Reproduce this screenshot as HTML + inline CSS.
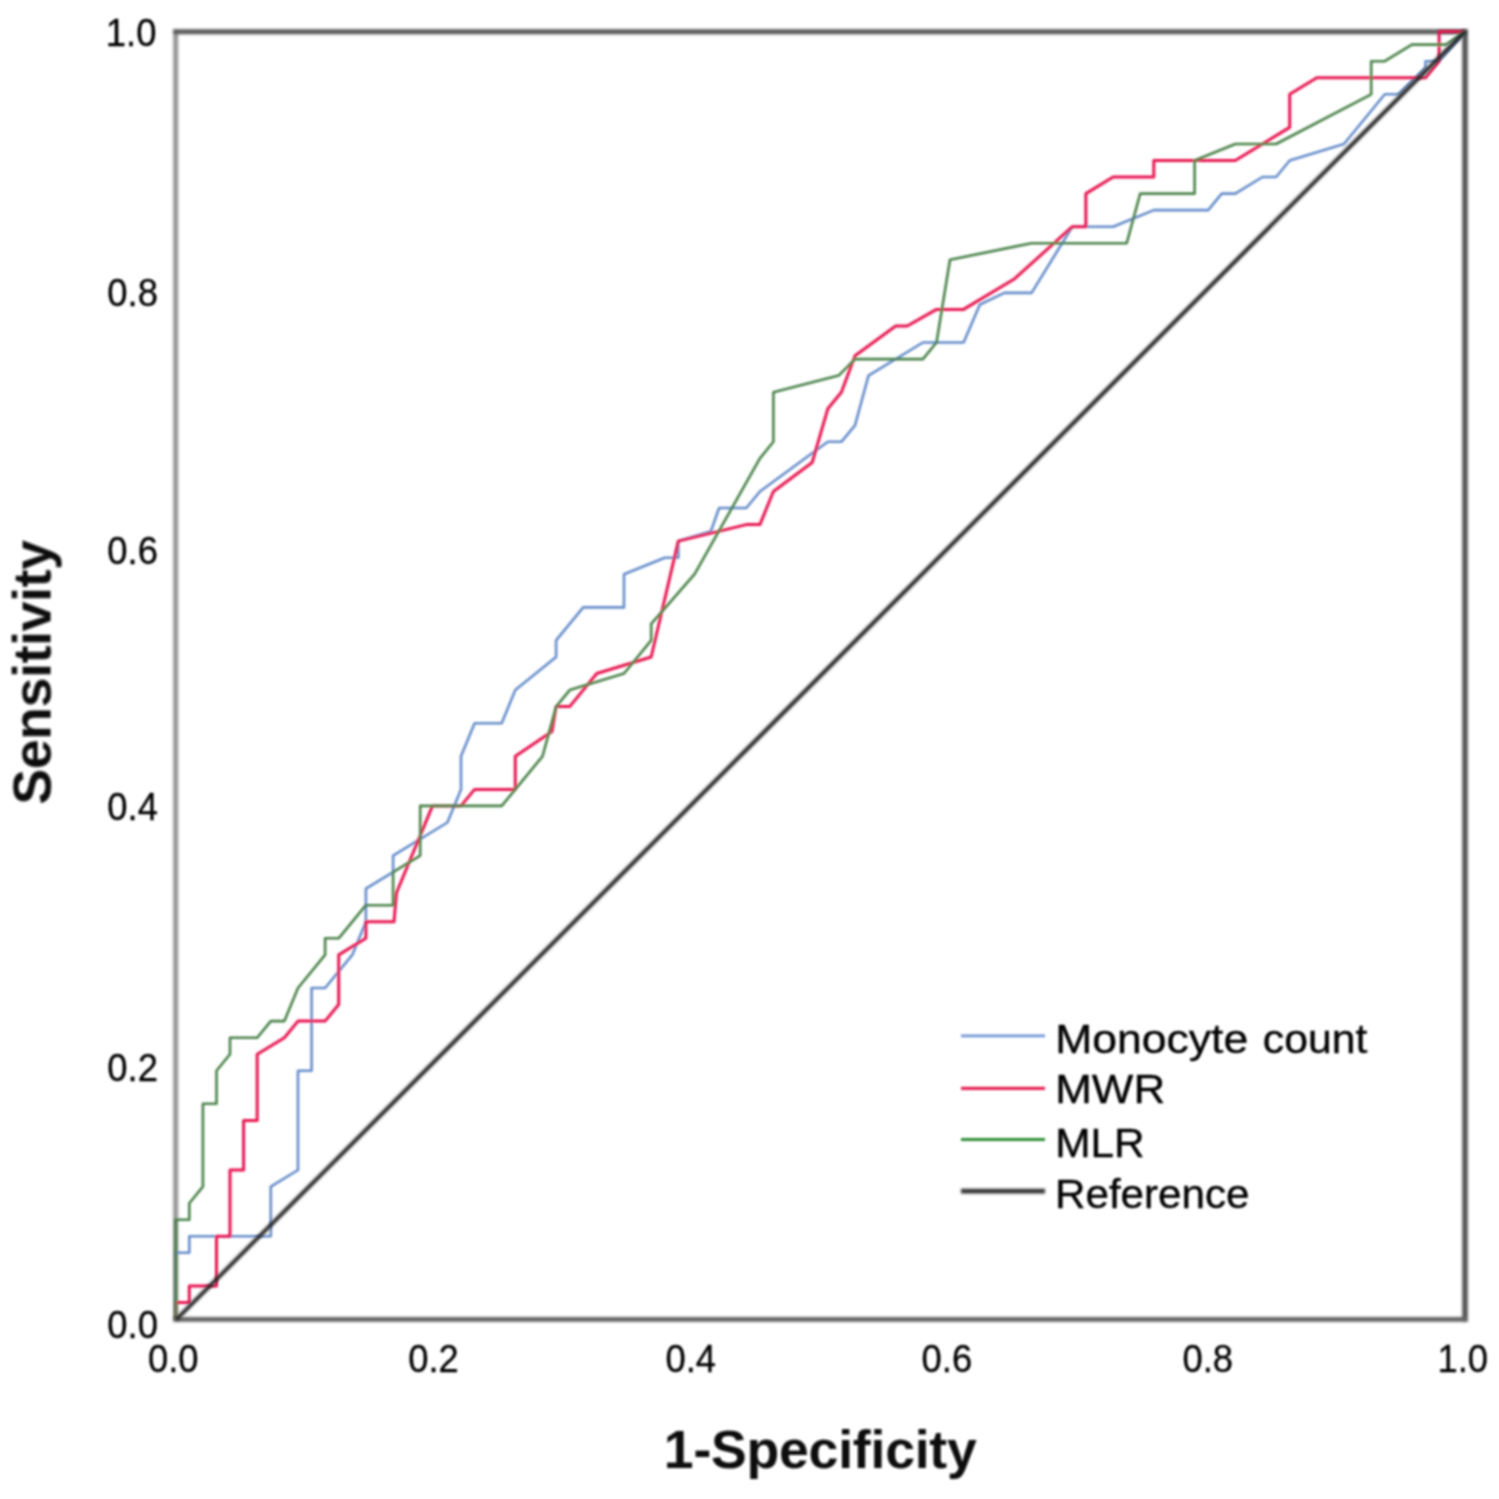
<!DOCTYPE html>
<html lang="en">
<head>
<meta charset="utf-8">
<title>ROC curve</title>
<style>
html,body{margin:0;padding:0;background:#fff;}
body{width:1499px;height:1499px;overflow:hidden;}
svg{display:block;font-family:"Liberation Sans",sans-serif;}
.tick text{font-size:39.2px;fill:#000;stroke:#000;stroke-width:0.3px;}
.leg text{font-size:41.2px;fill:#000;stroke:#000;stroke-width:0.35px;}
.ttl{font-size:53.6px;font-weight:bold;fill:#111;}
</style>
</head>
<body>
<svg width="1499" height="1499" viewBox="0 0 1499 1499">
<rect x="0" y="0" width="1499" height="1499" fill="#ffffff"/>
<defs>
<filter id="softL" filterUnits="userSpaceOnUse" x="0" y="0" width="1499" height="1499"><feGaussianBlur stdDeviation="1.7"/></filter>
<filter id="softC" filterUnits="userSpaceOnUse" x="0" y="0" width="1499" height="1499"><feGaussianBlur stdDeviation="1.3"/></filter>
<filter id="softT" filterUnits="userSpaceOnUse" x="0" y="0" width="1499" height="1499"><feGaussianBlur stdDeviation="1"/></filter>
</defs>
<g filter="url(#softL)">
<g fill="none" stroke-linecap="square">
<line x1="175.7" y1="31.7" x2="175.7" y2="1319.0" stroke="#959595" stroke-width="5"/>
<line x1="175.7" y1="31.7" x2="1465.0" y2="31.7" stroke="#585858" stroke-width="5"/>
<line x1="1465.0" y1="31.7" x2="1465.0" y2="1319.0" stroke="#555555" stroke-width="5.6"/>
<line x1="175.7" y1="1319.3" x2="1465.0" y2="1319.3" stroke="#626262" stroke-width="4.8"/>
</g>
</g>
<g filter="url(#softC)" fill="none" stroke-linejoin="round" stroke-linecap="butt">
<path d="M175.7 1319.0 L175.7 1252.8 L189.3 1252.8 L189.3 1236.2 L270.8 1236.2 L270.8 1186.6 L298.0 1170.0 L298.0 1070.8 L311.6 1070.8 L311.6 988.0 L325.1 988.0 L352.3 954.9 L365.9 921.8 L365.9 888.7 L393.1 872.1 L393.1 855.6 L447.4 822.5 L461.0 789.4 L461.0 756.3 L474.6 723.2 L501.7 723.2 L515.3 690.1 L556.1 657.0 L556.1 640.4 L583.2 607.4 L624.0 607.4 L624.0 574.2 L664.8 557.7 L678.3 557.7 L678.3 541.1 L710.9 531.2 L719.1 508.0 L746.3 508.0 L759.9 491.5 L827.8 441.8 L841.4 441.8 L855.0 425.3 L868.5 375.6 L922.9 342.5 L963.6 342.5 L979.9 304.5 L1004.4 292.9 L1031.6 292.9 L1072.3 226.7 L1113.1 226.7 L1153.8 210.1 L1208.2 210.1 L1221.7 193.6 L1235.3 193.6 L1262.5 177.0 L1276.1 177.0 L1289.7 160.5 L1344.0 144.0 L1384.8 94.3 L1398.4 94.3 L1425.5 67.8 L1425.5 61.2 L1439.1 61.2 L1465.0 31.7" stroke="#668dca" stroke-width="2.6"/>
<path d="M175.7 1319.0 L175.7 1302.5 L189.3 1302.5 L189.3 1285.9 L216.5 1285.9 L216.5 1236.2 L230.0 1236.2 L230.0 1170.0 L243.6 1170.0 L243.6 1120.4 L257.2 1120.4 L257.2 1054.2 L284.4 1037.7 L298.0 1021.1 L325.1 1021.1 L338.7 1004.5 L338.7 954.9 L365.9 938.3 L365.9 921.8 L394.0 921.8 L396.5 892.8 L432.5 805.9 L461.0 805.9 L474.6 789.4 L515.3 789.4 L515.3 756.3 L552.0 731.5 L556.1 706.6 L569.7 706.6 L596.8 673.5 L651.2 657.0 L678.3 541.1 L746.3 524.6 L759.9 524.6 L773.4 491.5 L812.2 462.5 L827.8 408.8 L841.4 392.2 L855.0 355.8 L895.7 326.0 L907.3 326.0 L936.5 309.4 L963.6 309.4 L1014.7 278.7 L1072.3 226.7 L1085.9 226.7 L1085.9 193.6 L1113.1 177.0 L1153.8 177.0 L1153.8 160.5 L1235.3 160.5 L1289.7 127.4 L1289.7 94.3 L1316.8 77.8 L1411.9 77.8 L1425.5 77.8 L1439.1 61.2 L1439.1 31.4 L1452.7 31.4 L1465.0 31.7" stroke="#e71851" stroke-width="3"/>
<path d="M175.7 1319.0 L175.7 1219.7 L189.3 1219.7 L189.3 1203.2 L202.9 1186.6 L202.9 1103.8 L216.5 1103.8 L216.5 1070.8 L230.0 1054.2 L230.0 1037.7 L257.2 1037.7 L270.8 1021.1 L284.4 1021.1 L298.0 988.0 L325.1 954.9 L325.1 938.3 L338.7 938.3 L365.9 905.2 L393.1 905.2 L393.1 872.1 L420.2 855.6 L420.2 805.9 L501.7 805.9 L542.5 756.3 L556.1 706.6 L569.7 690.1 L624.0 673.5 L651.2 640.4 L651.2 623.9 L694.6 574.2 L759.9 458.4 L773.4 441.8 L773.4 392.2 L838.6 375.6 L855.0 359.1 L922.9 359.1 L936.5 342.5 L950.0 259.8 L1031.6 243.2 L1126.7 243.2 L1140.2 193.6 L1194.6 193.6 L1194.6 160.5 L1235.3 144.0 L1276.1 144.0 L1371.2 94.3 L1371.2 61.2 L1384.8 61.2 L1411.9 44.6 L1445.9 44.6 L1465.0 31.7" stroke="#4a824a" stroke-width="2.6"/>
<line x1="961" y1="1035.8" x2="1045" y2="1035.8" stroke="#7096d6" stroke-width="2.8"/><line x1="961" y1="1088.4" x2="1045" y2="1088.4" stroke="#e62457" stroke-width="3.2"/><line x1="961" y1="1139.5" x2="1045" y2="1139.5" stroke="#2f8c36" stroke-width="2.8"/>
</g>
<g filter="url(#softL)">
<line x1="176.4" y1="1319.3" x2="1465.2" y2="31.5" stroke="#262626" stroke-width="4"/>
<line x1="961" y1="1191.1" x2="1045" y2="1191.1" stroke="#333333" stroke-width="4.6"/>
</g>
<g filter="url(#softT)">
<g class="tick"><text x="148.0" y="1371.9" textLength="50.6" lengthAdjust="spacingAndGlyphs">0.0</text><text x="408.2" y="1371.9" textLength="50.6" lengthAdjust="spacingAndGlyphs">0.2</text><text x="665.4" y="1371.9" textLength="50.6" lengthAdjust="spacingAndGlyphs">0.4</text><text x="921.6" y="1371.9" textLength="50.6" lengthAdjust="spacingAndGlyphs">0.6</text><text x="1182.5" y="1371.9" textLength="50.6" lengthAdjust="spacingAndGlyphs">0.8</text><text x="1437.4" y="1371.9" textLength="50.6" lengthAdjust="spacingAndGlyphs">1.0</text><text x="105.8" y="45.9" textLength="50.6" lengthAdjust="spacingAndGlyphs">1.0</text><text x="107.3" y="306.2" textLength="50.6" lengthAdjust="spacingAndGlyphs">0.8</text><text x="107.3" y="563.9" textLength="50.6" lengthAdjust="spacingAndGlyphs">0.6</text><text x="107.3" y="819.6" textLength="50.6" lengthAdjust="spacingAndGlyphs">0.4</text><text x="107.3" y="1080.9" textLength="50.6" lengthAdjust="spacingAndGlyphs">0.2</text><text x="107.3" y="1338.0" textLength="50.6" lengthAdjust="spacingAndGlyphs">0.0</text></g>
<g class="leg"><text y="1052.5"><tspan x="1055.2" textLength="193" lengthAdjust="spacingAndGlyphs">Monocyte</tspan><tspan> </tspan><tspan x="1262.8" textLength="104.5" lengthAdjust="spacingAndGlyphs">count</tspan></text><text x="1055.2" y="1102.5" textLength="110" lengthAdjust="spacingAndGlyphs">MWR</text><text x="1055.2" y="1157.2" textLength="89.5" lengthAdjust="spacingAndGlyphs">MLR</text><text x="1055.0" y="1208.3" textLength="194.5" lengthAdjust="spacingAndGlyphs">Reference</text></g>
<text class="ttl" x="663.8" y="1468.2" textLength="313" lengthAdjust="spacing">1-Specificity</text>
<text class="ttl" transform="translate(50.6 804.6) rotate(-90)" textLength="264.5" lengthAdjust="spacing">Sensitivity</text>
</g>
</svg>
</body>
</html>
